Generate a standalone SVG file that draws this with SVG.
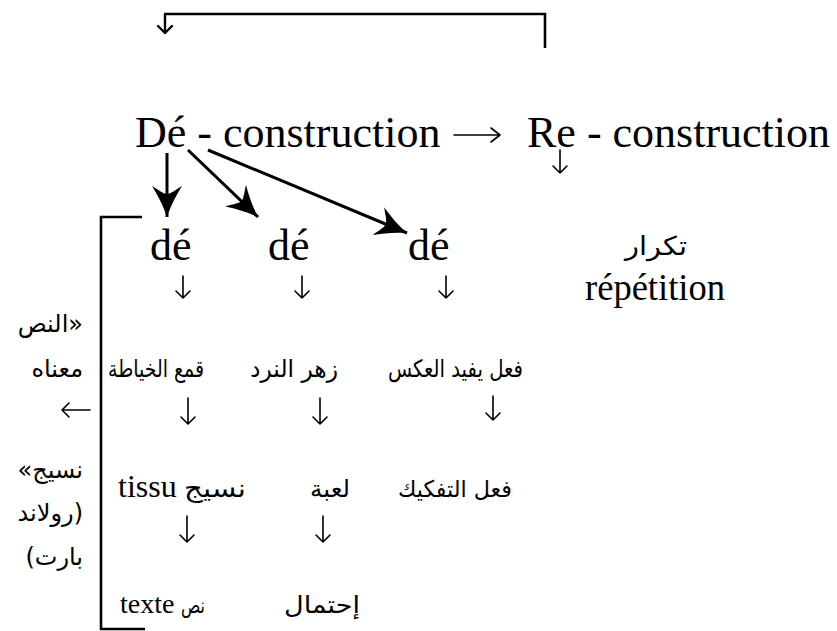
<svg xmlns="http://www.w3.org/2000/svg" width="837" height="631" viewBox="0 0 837 631">
<style>
.lat{font-family:"Liberation Serif","Times New Roman",serif;fill:#000}
.ar{font-family:"DejaVu Sans",sans-serif;fill:#000;font-size:22px}
.r1{font-size:24px}
.q{font-size:24px;text-anchor:end}
.big{font-size:44px}
.arr{fill:none;stroke:#000;stroke-width:1.6;stroke-linecap:round;stroke-linejoin:round}
.thick{fill:none;stroke:#000;stroke-width:3}
.brk{fill:none;stroke:#000;stroke-width:2.6}
</style>
<defs>
<marker id="head" markerUnits="userSpaceOnUse" markerWidth="34" markerHeight="32" refX="32" refY="16" orient="auto" viewBox="0 0 34 32">
<path d="M32,16 C20,12 9,6 1,1 C6,9 9,13 9,16 C9,19 6,23 1,31 C9,26 20,20 32,16 Z" fill="#000"/>
</marker>
</defs>
<rect width="837" height="631" fill="#fff"/>
<g id="connectors">
<path class="brk" d="M165,14 H545 V48"/>
<path class="arr" d="M165,14 V33 M158,26 L165,33 L172,26" style="stroke-width:2.4"/>
<path class="thick" d="M167,153 L167,217" marker-end="url(#head)"/>
<path class="thick" d="M188,150 L258,217" marker-end="url(#head)"/>
<path class="thick" d="M208,150 L407,233" marker-end="url(#head)"/>
<path class="arr" d="M454,135 H500 M491,128 L500,135 L491,142"/>
<path class="arr" d="M560,150 V173 M553,166 L560,173 L567,166"/>
<path class="arr" d="M183,276 V298 M176,291 L183,298 L190,291"/>
<path class="arr" d="M302,276 V298 M295,291 L302,298 L309,291"/>
<path class="arr" d="M446,276 V298 M439,291 L446,298 L453,291"/>
<path class="arr" d="M188,398 V424 M181,417 L188,424 L195,417"/>
<path class="arr" d="M320,398 V424 M313,417 L320,424 L327,417"/>
<path class="arr" d="M493,396 V420 M486,413 L493,420 L500,413"/>
<path class="arr" d="M187,516 V542 M180,535 L187,542 L194,535"/>
<path class="arr" d="M323,516 V542 M316,535 L323,542 L330,535"/>
<path class="arr" d="M90,410 H62 M69,403 L62,410 L69,417"/>
<path class="brk" d="M142,217 H101 V629 H145"/>
</g>
<g id="deconstruction"><text class="lat big" x="135" y="147">Dé - construction</text></g>
<g id="reconstruction"><text class="lat big" x="527" y="147">Re - construction</text></g>
<g id="de1"><text class="lat big" x="150" y="260">dé</text></g>
<g id="de2"><text class="lat big" x="268" y="260">dé</text></g>
<g id="de3"><text class="lat big" x="408" y="260">dé</text></g>
<g id="repetition">
<text class="ar" x="625" y="255" style="font-size:26px" textLength="62" lengthAdjust="spacingAndGlyphs">تكرار</text>
<text class="lat" x="585" y="300" font-size="37" textLength="140" lengthAdjust="spacingAndGlyphs">répétition</text>
</g>
<g id="kamaa"><text class="ar r1" x="108" y="377" textLength="96" lengthAdjust="spacingAndGlyphs">قمع الخياطة</text></g>
<g id="zahr"><text class="ar r1" x="250" y="377" textLength="88" lengthAdjust="spacingAndGlyphs">زهر النرد</text></g>
<g id="fiel"><text class="ar r1" x="388" y="377" textLength="135" lengthAdjust="spacingAndGlyphs">فعل يفيد العكس</text></g>
<g id="tissu"><text class="lat" x="118" y="497" font-size="32">tissu</text><text class="ar" x="184" y="497" style="font-size:25px" textLength="62" lengthAdjust="spacingAndGlyphs">نسيج</text></g>
<g id="luba"><text class="ar" x="310" y="497" style="font-size:24px" textLength="40" lengthAdjust="spacingAndGlyphs">لعبة</text></g>
<g id="tafkik"><text class="ar" x="398" y="497" style="font-size:23px" textLength="114" lengthAdjust="spacingAndGlyphs">فعل التفكيك</text></g>
<g id="texte"><text class="lat" x="120" y="613" font-size="28">texte</text><text class="ar" x="181" y="613" textLength="24" lengthAdjust="spacingAndGlyphs">نص</text></g>
<g id="ihtimal"><text class="ar" x="284" y="613" style="font-size:24px" textLength="76" lengthAdjust="spacingAndGlyphs">إحتمال</text></g>
<g id="quote">
<text class="ar q" x="83" y="332">&#x200F;«النص&#x200F;</text>
<text class="ar q" x="83" y="377">&#x200F;معناه&#x200F;</text>
<text class="ar q" x="83" y="478">&#x200F;نسيج»&#x200F;</text>
<text class="ar q" x="83" y="521">&#x200F;(رولاند&#x200F;</text>
<text class="ar q" x="83" y="565">&#x200F;بارت)&#x200F;</text>
</g>
</svg>
